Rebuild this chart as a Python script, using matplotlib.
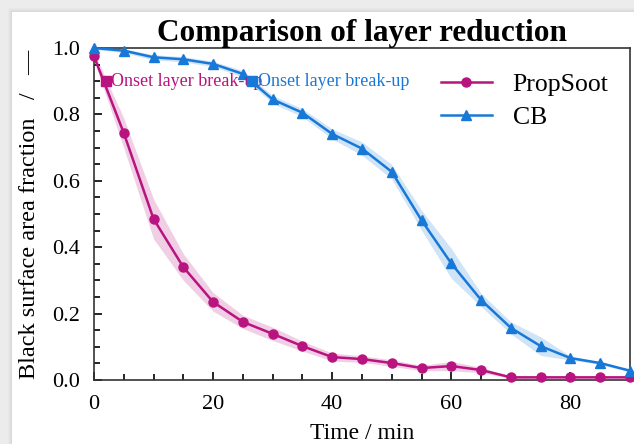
import matplotlib.pyplot as plt
from matplotlib.patches import Rectangle
from matplotlib.ticker import MultipleLocator

plt.rcParams["font.family"] = ["Liberation Serif", "DejaVu Serif"]

time_min = [0, 5, 10, 15, 20, 25, 30, 35, 40, 45, 50, 55, 60, 65, 70, 75, 80, 85, 90]

propsoot_mean = [0.975, 0.744, 0.485, 0.340, 0.235, 0.175, 0.139, 0.102, 0.069, 0.063,
                 0.051, 0.036, 0.042, 0.030, 0.008, 0.008, 0.008, 0.008, 0.008]
propsoot_std = [0.012, 0.045, 0.060, 0.040, 0.028, 0.020, 0.020, 0.015, 0.012, 0.010,
                0.010, 0.008, 0.014, 0.008, 0.003, 0.002, 0.002, 0.002, 0.002]

cb_mean = [1.000, 0.992, 0.972, 0.966, 0.952, 0.922, 0.845, 0.805, 0.741, 0.697,
           0.627, 0.481, 0.351, 0.241, 0.157, 0.102, 0.066, 0.051, 0.028]
cb_std = [0.004, 0.006, 0.008, 0.008, 0.008, 0.010, 0.012, 0.012, 0.015, 0.020,
          0.022, 0.030, 0.045, 0.020, 0.018, 0.028, 0.006, 0.004, 0.004]

# onset of layer break-up (time, fraction)
onset_propsoot = (2.0, 0.90)
onset_cb = (26.6, 0.90)
onset_text = "Onset layer break-up"

PINK = "#b8137f"
BLUE = "#1878d8"

fig = plt.figure(figsize=(6.34, 4.44), dpi=100)
fig.patch.set_facecolor("#ececec")

# white card with a soft shadow along its top/left edge
W, H = 634, 444
for off, a in [(4, 0.03), (3, 0.04), (2, 0.05), (1, 0.06)]:
    fig.add_artist(Rectangle(((12 - off) / W, 0), 1, 1 - (12 - off) / H,
                             transform=fig.transFigure, facecolor="#888888",
                             alpha=a, edgecolor="none", zorder=-11))
fig.add_artist(Rectangle((12 / W, 0), 1, 1 - 12 / H, transform=fig.transFigure,
                         facecolor="white", edgecolor="none", zorder=-10))

ax = fig.add_axes([94 / W, 1 - 380 / H, 536 / W, 332 / H])
ax.set_facecolor("none")

lo = [m - s for m, s in zip(propsoot_mean, propsoot_std)]
hi = [m + s for m, s in zip(propsoot_mean, propsoot_std)]
ax.fill_between(time_min, lo, hi, color=PINK, alpha=0.2, linewidth=0)
ax.plot(time_min, propsoot_mean, color=PINK, marker="o", markersize=6.5, linewidth=1.8,
        label="PropSoot", clip_on=False, zorder=3)

lo = [m - s for m, s in zip(cb_mean, cb_std)]
hi = [m + s for m, s in zip(cb_mean, cb_std)]
ax.fill_between(time_min, lo, hi, color=BLUE, alpha=0.2, linewidth=0)
ax.plot(time_min, cb_mean, color=BLUE, marker="^", markersize=6.5, linewidth=1.8,
        label="CB", clip_on=False, zorder=3)

ax.plot(*onset_propsoot, marker="s", color=PINK, markersize=7.5, zorder=4)
ax.text(onset_propsoot[0] + 0.9, onset_propsoot[1], onset_text, color=PINK,
        fontsize=13, va="center", ha="left")
ax.plot(*onset_cb, marker="s", color=BLUE, markersize=7.5, zorder=4)
ax.text(onset_cb[0] + 0.9, onset_cb[1], onset_text, color=BLUE,
        fontsize=13, va="center", ha="left")

ax.set_xlim(0, 90)
ax.set_ylim(0, 1.0)
ax.xaxis.set_major_locator(MultipleLocator(20))
ax.xaxis.set_minor_locator(MultipleLocator(5))
ax.yaxis.set_major_locator(MultipleLocator(0.2))
ax.yaxis.set_minor_locator(MultipleLocator(0.05))
ax.tick_params(which="both", direction="in", labelsize=16, width=1.2)
ax.tick_params(which="major", length=6)
ax.tick_params(which="minor", length=4)
ax.tick_params(axis="y", pad=10)
ax.tick_params(axis="x", pad=11)
ax.yaxis.set_major_formatter(plt.FuncFormatter(lambda v, p: f"{v:.1f}"))
for spine in ax.spines.values():
    spine.set_linewidth(1.2)
    spine.set_color("#333333")

ax.set_xlabel("Time / min", fontsize=17, labelpad=6)
ax.set_ylabel("Black surface area fraction   /   \u2014", fontsize=17.5, labelpad=9)
ax.set_title("Comparison of layer reduction", fontsize=22.5, fontweight="bold", pad=3)

ax.legend(loc="upper right", frameon=False, fontsize=18.5, handlelength=2.0,
          bbox_to_anchor=(1.003, 0.995), labelspacing=0.4, handletextpad=0.8)

fig.savefig("out.png", dpi=100, facecolor=fig.get_facecolor())
